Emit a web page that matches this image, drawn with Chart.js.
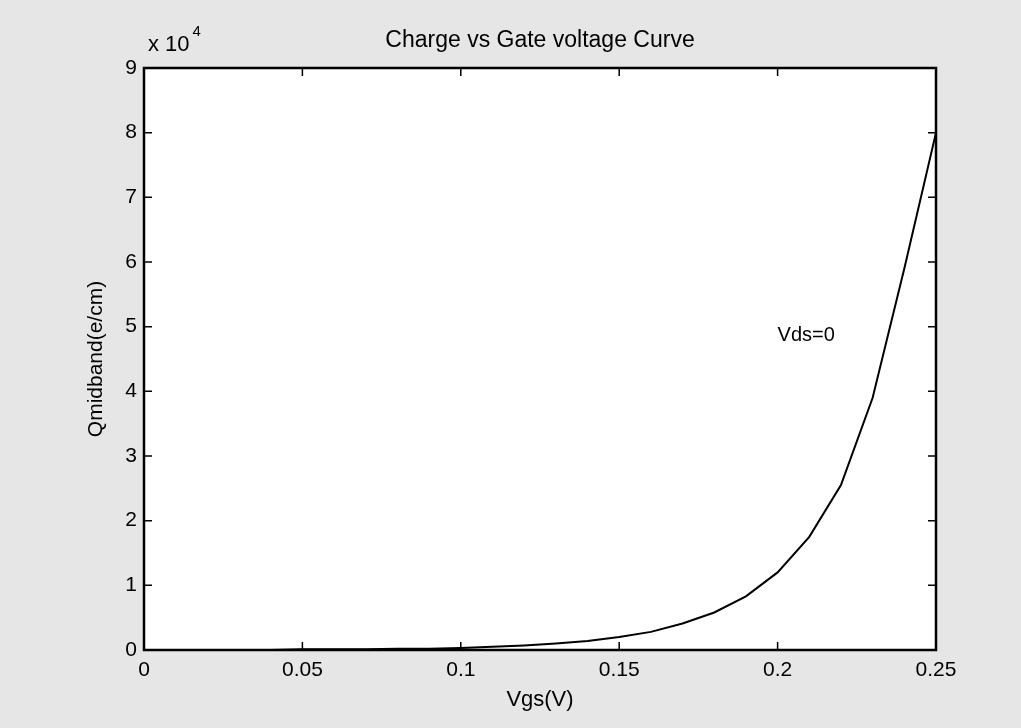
<!DOCTYPE html>
<html lang="en">
<head>
  <meta charset="UTF-8">
  <title>Charge vs Gate voltage Curve</title>
  <script src="https://cdn.jsdelivr.net/npm/chart.js"></script>
  <style>
    body { margin: 0; background: #e6e6e6; }
    #wrap { width: 1021px; height: 728px; }
  </style>
</head>
<body>
  <div id="wrap"><canvas id="qChart" width="1021" height="728"></canvas></div>

  <script>
    // values (Q in e/cm)
    const vgs = [0, 0.01, 0.02, 0.03, 0.04, 0.05, 0.06, 0.07, 0.08, 0.09, 0.10, 0.11, 0.12,
                 0.13, 0.14, 0.15, 0.16, 0.17, 0.18, 0.19, 0.20, 0.21, 0.22, 0.23, 0.24, 0.25];
    const qmid = [0, 0, 0, 0, 0, 100, 100, 100, 200, 200, 300, 500, 700,
                  1000, 1400, 2000, 2800, 4100, 5800, 8300, 12000, 17500, 25500, 39000, 59000, 80000];
    const xTicks = [0, 0.05, 0.1, 0.15, 0.2, 0.25];
    const xTickLabels = ['0', '0.05', '0.1', '0.15', '0.2', '0.25'];
    const yTicks = [0, 10000, 20000, 30000, 40000, 50000, 60000, 70000, 80000, 90000];
    const yExponent = 4;
    const chartTitle = 'Charge vs Gate voltage Curve';
    const curveLabel = { x: 0.2, y: 48700, text: 'Vds=0' };

    const FONT = 'Liberation Sans, Arial, Helvetica, sans-serif';
    Chart.defaults.color = '#000';
    Chart.defaults.font.family = FONT;

    // matlab style: grey page, white axes, box with inward ticks
    const matlabBox = {
      id: 'matlabBox',
      beforeDraw(chart) {
        const { ctx, chartArea: a } = chart;
        ctx.save();
        ctx.fillStyle = '#e6e6e6';
        ctx.fillRect(0, 0, chart.width, chart.height);
        ctx.fillStyle = '#fff';
        ctx.fillRect(a.left, a.top, a.right - a.left, a.bottom - a.top);
        ctx.restore();
      },
      afterDraw(chart) {
        const { ctx, chartArea: a, scales } = chart;
        const len = 8;
        ctx.save();
        ctx.strokeStyle = '#000';
        ctx.lineWidth = 1.5;
        ctx.beginPath();
        xTicks.forEach(v => {
          const px = scales.x.getPixelForValue(v);
          ctx.moveTo(px, a.bottom); ctx.lineTo(px, a.bottom - len);
          ctx.moveTo(px, a.top); ctx.lineTo(px, a.top + len);
        });
        yTicks.forEach(v => {
          const py = scales.y.getPixelForValue(v);
          ctx.moveTo(a.left, py); ctx.lineTo(a.left + len, py);
          ctx.moveTo(a.right, py); ctx.lineTo(a.right - len, py);
        });
        ctx.stroke();
        ctx.lineWidth = 2.5;
        ctx.strokeRect(a.left, a.top, a.right - a.left, a.bottom - a.top);

        ctx.fillStyle = '#000';

        // title centred over the axes
        ctx.font = '23px ' + FONT;
        ctx.textAlign = 'center';
        ctx.textBaseline = 'middle';
        ctx.fillText(chartTitle, (a.left + a.right) / 2, 41);

        // exponent label above the y axis
        ctx.textBaseline = 'alphabetic';
        ctx.textAlign = 'left';
        ctx.font = '22px ' + FONT;
        ctx.fillText('x 10', a.left + 4, 51);
        const w = ctx.measureText('x 10').width;
        ctx.font = '15px ' + FONT;
        ctx.fillText(String(yExponent), a.left + 7 + w, 36);

        // curve annotation
        ctx.font = '20px ' + FONT;
        ctx.textBaseline = 'middle';
        ctx.fillText(curveLabel.text, scales.x.getPixelForValue(curveLabel.x),
                     scales.y.getPixelForValue(curveLabel.y));
        ctx.restore();
      }
    };

    new Chart(document.getElementById('qChart'), {
      type: 'line',
      data: {
        datasets: [{
          label: 'Vds=0',
          data: vgs.map((v, i) => ({ x: v, y: qmid[i] })),
          borderColor: '#000',
          borderWidth: 2,
          pointRadius: 0,
          tension: 0,
          fill: false
        }]
      },
      options: {
        responsive: false,
        animation: false,
        layout: { padding: { top: 68, right: 85, bottom: 0, left: 0 } },
        plugins: {
          legend: { display: false },
          tooltip: { enabled: false },
          title: { display: false }
        },
        scales: {
          x: {
            type: 'linear',
            min: 0,
            max: 0.25,
            afterBuildTicks: s => { s.ticks = xTicks.map(v => ({ value: v })); },
            afterFit: s => { s.height = 78; },
            grid: { display: false, drawTicks: false },
            border: { display: false },
            ticks: {
              padding: 8,
              font: { size: 21 },
              callback: (v, i) => xTickLabels[i]
            },
            title: {
              display: true,
              text: 'Vgs(V)',
              font: { size: 22 },
              padding: 15
            }
          },
          y: {
            type: 'linear',
            min: 0,
            max: 90000,
            afterBuildTicks: s => { s.ticks = yTicks.map(v => ({ value: v })); },
            afterFit: s => { s.width = 144; },
            grid: { display: false, drawTicks: false },
            border: { display: false },
            ticks: {
              padding: 7,
              font: { size: 21 },
              callback: v => String(v / Math.pow(10, yExponent))
            },
            title: {
              display: true,
              text: 'Qmidband(e/cm)',
              font: { size: 21 },
              padding: 84
            }
          }
        }
      },
      plugins: [matlabBox]
    });
  </script>
</body>
</html>
